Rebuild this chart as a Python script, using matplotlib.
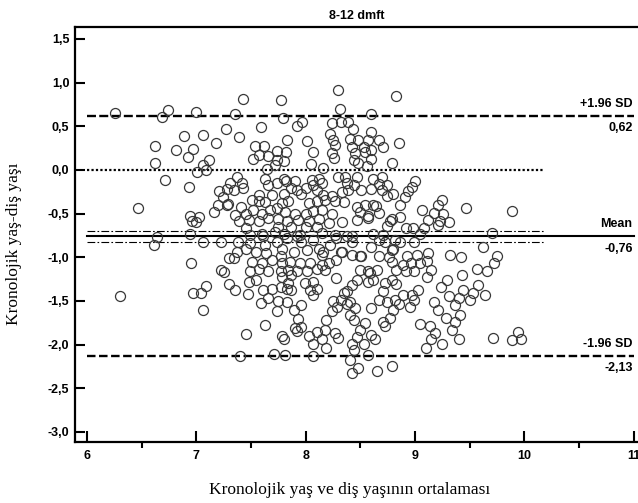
import matplotlib
matplotlib.use('Agg')
import matplotlib.pyplot as plt
from matplotlib.ticker import FuncFormatter, MultipleLocator

# mean of the two ages (x) and difference chronological - dental age (y)
mean_age = [
    6.26, 6.69, 6.74, 7.00, 7.27, 6.62, 6.89, 7.06, 6.81, 6.97, 6.92, 7.18, 7.12, 7.06, 6.62, 7.01,
    7.09, 6.71, 6.93, 6.47, 7.21, 7.28, 7.24, 7.20, 7.28, 7.16, 6.94, 7.02, 6.96, 7.00, 6.94,
    7.43, 7.77, 8.30, 7.35, 7.79, 8.31, 8.60, 7.59, 7.92, 7.97, 8.24, 8.32, 8.39, 8.43, 8.60, 7.39,
    7.83, 8.01, 8.22, 8.25, 8.41, 8.48, 8.57, 7.54, 7.62, 7.74, 7.82, 8.07, 8.27, 8.24, 8.42, 8.53,
    8.60, 8.45, 8.54, 7.57, 7.52, 7.66, 7.74, 7.80, 7.72, 7.65, 8.05, 8.16, 8.26, 8.44, 8.48, 8.56,
    8.60,
    7.37, 7.31, 7.42, 7.63, 7.80, 7.82, 7.90, 8.06, 8.12, 8.15, 8.30, 8.36, 8.47, 8.38, 8.44, 8.62,
    7.34, 7.43, 7.66, 7.74, 7.87, 7.92, 8.00, 8.07, 8.10, 8.16, 7.57, 7.69, 7.80, 7.96, 8.33, 8.39,
    8.51, 8.60, 8.24, 7.51, 7.29, 7.41, 7.57, 7.63, 7.78, 7.84, 8.03, 8.10, 8.18, 8.27, 8.35, 8.47,
    8.54, 8.62, 7.35, 7.45, 7.52, 7.60, 7.67, 7.74, 7.81, 7.90, 8.00, 8.07, 8.15, 8.24, 8.50, 8.57,
    7.39, 7.48, 7.57, 7.66, 7.75, 7.83, 7.93, 8.03, 8.12, 8.21, 8.33, 8.47, 8.57, 7.75, 7.87, 7.45,
    8.00, 8.10, 7.60, 7.72, 7.80, 7.95, 8.15, 8.27, 8.42, 8.62,
    8.83, 8.67, 8.85, 8.71, 8.79, 8.70, 8.67, 8.74, 8.70, 8.80, 8.74, 9.00, 8.97, 8.94, 8.91, 8.86,
    8.64, 8.67, 9.25, 9.21, 9.47, 9.89, 9.06, 9.17, 9.26, 8.86, 8.79, 8.77, 9.12, 9.23, 9.31, 9.21,
    8.74, 8.92, 8.98, 9.08, 9.05, 8.71, 9.70, 8.99, 8.82, 9.62,
    6.61, 6.64, 7.06, 7.23, 7.38, 7.37, 7.45, 7.49, 7.55, 7.63, 7.64, 7.74, 7.78, 7.83, 7.89, 7.96,
    8.01, 8.07, 8.12, 8.16, 8.22, 8.28, 8.33, 7.49, 7.61, 7.92,
    8.38, 8.42, 8.60, 8.67, 8.73, 8.80, 8.86, 8.42, 8.50, 8.67, 8.76, 8.93, 9.02, 9.12, 9.32, 9.42,
    9.75, 8.79, 8.32,
    6.95, 6.30, 6.97, 7.04, 7.09, 7.06, 7.23, 7.25, 7.30, 7.30,
    7.77, 8.15, 8.51, 7.34, 7.51, 7.60, 7.69, 7.78, 7.86, 7.95, 8.04, 8.15, 8.21, 8.28, 7.49, 7.57,
    7.66, 7.77, 7.84, 7.92, 8.01, 8.10, 8.18, 8.28, 8.50, 8.57, 7.48, 7.55, 7.78, 7.87, 7.84, 7.99,
    8.07, 7.35, 8.47, 8.42, 8.57, 7.47, 7.61, 7.69, 7.77, 7.83, 7.87, 8.04, 8.10, 8.07, 8.38, 8.35,
    7.59, 7.66, 7.75, 7.83, 7.96, 7.89, 7.74, 8.25, 8.32, 8.29, 8.41, 8.45, 8.60, 8.38, 8.24, 8.19,
    8.41, 8.44, 8.54, 7.93, 7.63, 7.96, 7.90, 7.92, 7.45, 7.78, 7.80, 8.03, 8.10, 8.18, 8.15, 8.07,
    8.27, 8.30, 8.50, 8.47, 8.60, 8.53, 8.19, 8.42, 8.44, 8.57, 7.40, 7.71, 7.81, 8.07, 8.41, 8.48,
    8.42,
    8.79, 8.83, 8.89, 8.96, 9.05, 8.92, 8.99, 9.11, 9.15, 9.11, 8.73, 8.79, 8.83, 8.62, 8.59, 8.65,
    9.43, 9.29, 9.24, 9.44, 9.57, 9.72, 9.66, 9.58, 9.53, 9.64, 9.50, 9.40, 9.37, 9.31, 8.71, 8.67,
    8.74, 8.82, 8.89, 8.97, 9.03, 8.99, 8.85, 8.80, 8.77, 8.71, 8.73, 8.95, 9.17, 9.21, 9.28, 9.41,
    9.37, 9.34, 9.05, 9.14, 9.18, 9.15, 9.10, 9.25, 9.40, 9.71, 9.89, 9.94, 9.97, 8.63, 8.65, 8.79,
]
diff_age = [
    0.65, 0.61, 0.69, 0.66, 0.47, 0.27, 0.39, 0.40, 0.23, 0.24, 0.15, 0.31, 0.11, 0.06, 0.08, -0.02,
    0.00, -0.11, -0.19, -0.43, -0.24, -0.22, -0.31, -0.40, -0.40, -0.48, -0.53, -0.54, -0.58, -0.60, -0.73,
    0.81, 0.80, 0.92, 0.64, 0.60, 0.70, 0.64, 0.49, 0.50, 0.55, 0.54, 0.55, 0.55, 0.47, 0.43, 0.38,
    0.34, 0.33, 0.41, 0.34, 0.35, 0.34, 0.34, 0.27, 0.28, 0.22, 0.21, 0.20, 0.29, 0.19, 0.26, 0.26,
    0.23, 0.19, 0.21, 0.17, 0.12, 0.16, 0.11, 0.10, 0.06, 0.01, 0.07, 0.02, 0.14, 0.11, 0.08, 0.04,
    0.12,
    -0.08, -0.15, -0.15, -0.10, -0.10, -0.13, -0.13, -0.11, -0.10, -0.15, -0.08, -0.08, -0.08, -0.15, -0.17, -0.10,
    -0.23, -0.21, -0.17, -0.15, -0.21, -0.23, -0.21, -0.17, -0.23, -0.29, -0.29, -0.29, -0.27, -0.27, -0.25, -0.23,
    -0.23, -0.22, -0.30, -0.34, -0.39, -0.42, -0.36, -0.37, -0.38, -0.36, -0.38, -0.36, -0.34, -0.36, -0.37, -0.42,
    -0.40, -0.40, -0.52, -0.50, -0.46, -0.50, -0.46, -0.44, -0.48, -0.50, -0.50, -0.47, -0.46, -0.50, -0.48, -0.53,
    -0.59, -0.57, -0.59, -0.55, -0.56, -0.59, -0.57, -0.59, -0.56, -0.61, -0.60, -0.57, -0.55, -0.65, -0.65, -0.67,
    -0.65, -0.65, -0.73, -0.71, -0.73, -0.74, -0.72, -0.74, -0.76, -0.73,
    0.85, 0.34, 0.31, 0.26, 0.08, -0.08, -0.16, -0.17, -0.23, -0.27, -0.30, -0.13, -0.19, -0.24, -0.31, -0.40,
    -0.41, -0.49, -0.34, -0.40, -0.43, -0.47, -0.46, -0.49, -0.50, -0.54, -0.56, -0.59, -0.57, -0.59, -0.60, -0.63,
    -0.64, -0.67, -0.67, -0.66, -0.73, -0.74, -0.72, -0.82, -0.80, -0.88,
    -0.86, -0.77, -0.82, -0.82, -0.82, -0.94, -0.90, -0.84, -0.94, -0.86, -0.95, -0.82, -0.90, -0.78, -0.94, -0.82,
    -0.92, -0.80, -0.90, -0.94, -0.86, -0.78, -0.94, -0.74, -0.76, -0.76,
    -0.76, -0.83, -0.88, -0.80, -0.82, -0.90, -0.82, -0.97, -0.99, -0.99, -1.00, -0.99, -0.97, -0.95, -0.97, -1.00,
    -0.99, -0.92, -0.94,
    -1.06, -1.44, -1.41, -1.41, -1.33, -1.60, -1.14, -1.17, -1.01, -1.31,
    -0.99, -0.97, -0.99, -1.01, -1.05, -1.07, -1.03, -1.07, -1.05, -1.07, -1.07, -1.09, -1.07, -1.03, -1.16, -1.13,
    -1.16, -1.16, -1.15, -1.16, -1.16, -1.13, -1.15, -1.24, -1.15, -1.16, -1.28, -1.26, -1.22, -1.20, -1.30, -1.30,
    -1.28, -1.37, -1.26, -1.32, -1.28, -1.42, -1.37, -1.36, -1.34, -1.36, -1.37, -1.37, -1.36, -1.43, -1.39, -1.41,
    -1.52, -1.47, -1.50, -1.51, -1.55, -1.60, -1.62, -1.50, -1.49, -1.57, -1.51, -1.58, -1.58, -1.53, -1.62, -1.72,
    -1.66, -1.72, -1.75, -1.71, -1.77, -1.80, -1.81, -1.84, -1.88, -1.90, -1.94, -1.90, -1.86, -1.83, -1.93, -1.99,
    -1.87, -1.92, -1.83, -1.91, -1.89, -1.99, -2.04, -1.99, -2.06, -2.12, -2.13, -2.11, -2.12, -2.13, -2.18, -2.27,
    -2.33,
    -1.05, -1.15, -1.09, -1.07, -1.07, -1.16, -1.16, -1.04, -1.14, -1.23, -1.30, -1.26, -1.31, -1.26, -1.18, -1.15,
    -1.20, -1.26, -1.34, -1.38, -1.13, -1.07, -1.16, -1.32, -1.41, -1.43, -1.49, -1.47, -1.55, -1.44, -1.39, -1.49,
    -1.51, -1.49, -1.43, -1.43, -1.38, -1.49, -1.53, -1.60, -1.69, -1.74, -1.79, -1.57, -1.51, -1.60, -1.70, -1.66,
    -1.74, -1.83, -1.76, -1.79, -1.87, -1.94, -2.04, -1.99, -1.94, -1.92, -1.95, -1.86, -1.93, -1.93, -2.30, -2.25,
]

# Bland-Altman statistics
upper_loa = 0.62
mean_diff = -0.76
lower_loa = -2.13
ci_low = -0.82
ci_high = -0.70

fig = plt.figure(figsize=(6.38, 5.03), dpi=100)
ax = fig.add_axes([75 / 638, 61 / 503, 563 / 638, 415 / 503])

ax.plot(mean_age, diff_age, 'o', markersize=7.2, markerfacecolor='none',
        markeredgecolor='#383838', markeredgewidth=0.9, zorder=3)

# reference lines
ax.plot([6, 11], [upper_loa, upper_loa], color='black', lw=1.7, linestyle=(0, (3.8, 1.4)))
ax.plot([6, 11], [lower_loa, lower_loa], color='black', lw=1.7, linestyle=(0, (3.6, 1.5)))
ax.plot([6, 11], [mean_diff, mean_diff], color='black', lw=1.5)
ax.plot([6, 10.18], [0, 0], color='black', lw=1.6, linestyle=(0, (1, 1)))
ax.plot([6, 10.18], [ci_high, ci_high], color='black', lw=0.8, linestyle=(0, (7, 2, 1.5, 2)))
ax.plot([6, 10.18], [ci_low, ci_low], color='black', lw=0.8, linestyle=(0, (7, 2, 1.5, 2)))

lab = dict(ha='right', va='center', fontsize=9, fontweight='bold', family='Liberation Sans',
           textcoords='offset points')
for yv, top, bottom in [(upper_loa, '+1.96 SD', '0,62'), (mean_diff, 'Mean', '-0,76'),
                        (lower_loa, '-1.96 SD', '-2,13')]:
    ax.annotate(top, (10.99, yv), xytext=(0, 8.8), **lab)
    ax.annotate(bottom, (10.99, yv), xytext=(0, -8.8), **lab)

ax.set_xlim(5.89, 11.04)
ax.set_ylim(-3.115, 1.637)
ax.xaxis.set_major_locator(MultipleLocator(1))
ax.xaxis.set_minor_locator(MultipleLocator(0.5))
ax.yaxis.set_major_locator(MultipleLocator(0.5))
ax.yaxis.set_major_formatter(FuncFormatter(lambda v, p: f"{v:.1f}".replace('.', ',')))
ax.tick_params(direction='in', width=1.5, labelsize=9)
ax.tick_params(axis='x', which='major', length=8, pad=6)
ax.tick_params(axis='x', which='minor', length=4, width=1.5)
ax.tick_params(axis='y', which='major', length=7, pad=4)
for t in ax.get_xticklabels() + ax.get_yticklabels():
    t.set_fontweight('bold')
    t.set_family('Liberation Sans')
ax.spines['right'].set_visible(False)
for s in ['left', 'bottom', 'top']:
    ax.spines[s].set_linewidth(1.6)

ax.set_title('8-12 dmft', fontsize=9, fontweight='bold', family='Liberation Sans', pad=6)
fig.text(14 / 638, 1 - 244 / 503, 'Kronolojik yaş-diş yaşı', rotation=90, ha='center', va='center',
         fontsize=12.5, family='Liberation Serif')
fig.text(350 / 638, 1 - 490 / 503, 'Kronolojik yaş ve diş yaşının ortalaması', ha='center',
         va='center', fontsize=12.5, family='Liberation Serif')

fig.savefig('out.png', dpi=100)
